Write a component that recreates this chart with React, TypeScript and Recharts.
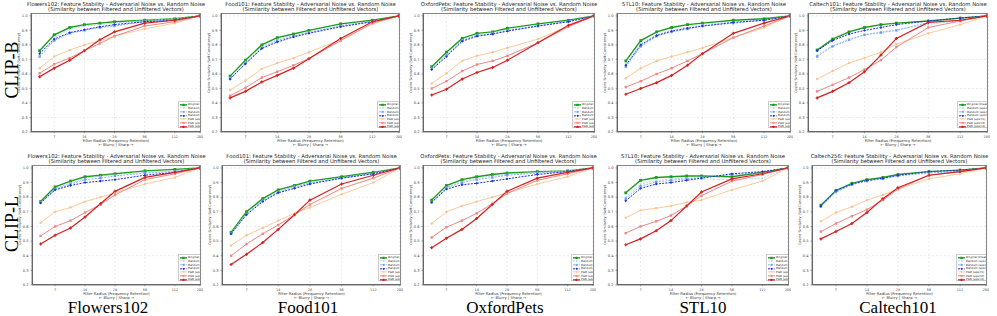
import { LineChart, Line, XAxis, YAxis, CartesianGrid } from 'recharts';

const RADII = [5, 7, 10, 14, 20, 28, 56, 112, 200];
const X_TICKS = [7, 14, 28, 56, 112, 200];
const Y_TICKS = [0.2, 0.3, 0.4, 0.5, 0.6, 0.7, 0.8, 0.9, 1.0];

const SERIES_NAMES = [
  'Original (Clean)',
  'Random (eps=1)',
  'Random (eps=2)',
  'Random (eps=4)',
  'PGD (eps=1)',
  'PGD (eps=2)',
  'PGD (eps=4)',
];

const COLUMN_LABELS = ['Flowers102', 'Food101', 'OxfordPets', 'STL10', 'Caltech101'];
const TOP_TITLES = ['Flowers102', 'Food101', 'OxfordPets', 'STL10', 'Caltech101'];
const BOTTOM_TITLES = ['Flowers102', 'Food101', 'OxfordPets', 'STL10', 'Caltech256'];

// CLIP-B rows: clean, rand1, rand2, rand4, pgd1, pgd2, pgd4
const flowersB = [
  [0.76, 0.87, 0.92, 0.94, 0.95, 0.96, 0.97, 0.98, 1.0],
  [0.74, 0.85, 0.91, 0.93, 0.94, 0.95, 0.97, 0.98, 1.0],
  [0.72, 0.83, 0.88, 0.9, 0.92, 0.93, 0.96, 0.97, 1.0],
  [0.74, 0.84, 0.885, 0.905, 0.925, 0.94, 0.96, 0.97, 1.0],
  [0.64, 0.72, 0.765, 0.8, 0.83, 0.86, 0.91, 0.95, 1.0],
  [0.605, 0.667, 0.71, 0.76, 0.81, 0.86, 0.93, 0.96, 1.0],
  [0.58, 0.64, 0.695, 0.76, 0.835, 0.89, 0.95, 0.97, 1.0],
];
const foodB = [
  [0.585, 0.695, 0.8, 0.85, 0.875, 0.9, 0.945, 0.97, 1.0],
  [0.575, 0.685, 0.79, 0.84, 0.865, 0.89, 0.935, 0.965, 1.0],
  [0.565, 0.675, 0.78, 0.83, 0.86, 0.885, 0.93, 0.96, 1.0],
  [0.565, 0.67, 0.775, 0.82, 0.855, 0.88, 0.925, 0.96, 1.0],
  [0.49, 0.555, 0.635, 0.675, 0.71, 0.75, 0.835, 0.945, 1.0],
  [0.45, 0.505, 0.575, 0.615, 0.66, 0.705, 0.83, 0.95, 1.0],
  [0.435, 0.48, 0.545, 0.59, 0.64, 0.705, 0.845, 0.96, 1.0],
];
const petsB = [
  [0.65, 0.75, 0.845, 0.88, 0.89, 0.915, 0.945, 0.97, 1.0],
  [0.64, 0.74, 0.835, 0.87, 0.885, 0.905, 0.935, 0.965, 1.0],
  [0.635, 0.73, 0.83, 0.865, 0.875, 0.9, 0.93, 0.96, 1.0],
  [0.63, 0.72, 0.825, 0.86, 0.875, 0.895, 0.93, 0.96, 1.0],
  [0.535, 0.605, 0.69, 0.725, 0.75, 0.78, 0.84, 0.93, 1.0],
  [0.5, 0.55, 0.62, 0.665, 0.69, 0.725, 0.815, 0.925, 1.0],
  [0.455, 0.495, 0.565, 0.61, 0.645, 0.695, 0.815, 0.935, 1.0],
];
const stlB = [
  [0.69, 0.83, 0.89, 0.92, 0.94, 0.95, 0.97, 0.98, 1.0],
  [0.67, 0.81, 0.87, 0.9, 0.92, 0.94, 0.96, 0.97, 1.0],
  [0.65, 0.79, 0.86, 0.89, 0.91, 0.93, 0.95, 0.97, 1.0],
  [0.66, 0.8, 0.865, 0.895, 0.915, 0.93, 0.955, 0.97, 1.0],
  [0.57, 0.64, 0.69, 0.72, 0.75, 0.78, 0.85, 0.92, 1.0],
  [0.51, 0.55, 0.6, 0.64, 0.69, 0.74, 0.85, 0.93, 1.0],
  [0.46, 0.5, 0.54, 0.59, 0.66, 0.74, 0.88, 0.95, 1.0],
];
const caltechB = [
  [0.765, 0.84, 0.89, 0.92, 0.94, 0.95, 0.965, 0.985, 1.0],
  [0.73, 0.795, 0.84, 0.87, 0.89, 0.905, 0.94, 0.97, 1.0],
  [0.72, 0.79, 0.835, 0.87, 0.885, 0.9, 0.955, 0.965, 1.0],
  [0.76, 0.83, 0.875, 0.9, 0.92, 0.94, 0.965, 0.985, 1.0],
  [0.565, 0.62, 0.675, 0.71, 0.75, 0.805, 0.88, 0.94, 1.0],
  [0.48, 0.525, 0.575, 0.63, 0.695, 0.785, 0.92, 0.965, 1.0],
  [0.435, 0.48, 0.54, 0.615, 0.73, 0.845, 0.955, 0.97, 1.0],
];

// CLIP-L rows
const flowersL = [
  [0.77, 0.87, 0.91, 0.94, 0.95, 0.96, 0.98, 0.99, 1.0],
  [0.76, 0.86, 0.9, 0.93, 0.945, 0.955, 0.97, 0.98, 1.0],
  [0.765, 0.855, 0.89, 0.92, 0.93, 0.945, 0.965, 0.975, 1.0],
  [0.76, 0.85, 0.88, 0.9, 0.91, 0.92, 0.95, 0.97, 1.0],
  [0.625, 0.7, 0.73, 0.77, 0.8, 0.83, 0.89, 0.935, 1.0],
  [0.535, 0.6, 0.64, 0.695, 0.75, 0.815, 0.92, 0.96, 1.0],
  [0.48, 0.54, 0.59, 0.665, 0.755, 0.84, 0.935, 0.97, 1.0],
];
const foodL = [
  [0.56, 0.7, 0.79, 0.85, 0.88, 0.91, 0.94, 0.97, 1.0],
  [0.555, 0.69, 0.78, 0.84, 0.875, 0.9, 0.935, 0.965, 1.0],
  [0.55, 0.685, 0.775, 0.835, 0.87, 0.895, 0.93, 0.96, 1.0],
  [0.55, 0.68, 0.77, 0.83, 0.86, 0.89, 0.93, 0.96, 1.0],
  [0.47, 0.54, 0.59, 0.64, 0.69, 0.73, 0.82, 0.9, 1.0],
  [0.4, 0.48, 0.55, 0.61, 0.68, 0.75, 0.86, 0.93, 1.0],
  [0.34, 0.41, 0.49, 0.58, 0.68, 0.78, 0.89, 0.95, 1.0],
];
const petsL = [
  [0.78, 0.88, 0.92, 0.94, 0.955, 0.965, 0.975, 0.98, 1.0],
  [0.77, 0.87, 0.91, 0.93, 0.945, 0.955, 0.97, 0.98, 1.0],
  [0.765, 0.865, 0.9, 0.92, 0.935, 0.95, 0.965, 0.975, 1.0],
  [0.765, 0.855, 0.885, 0.895, 0.91, 0.925, 0.955, 0.975, 1.0],
  [0.62, 0.7, 0.74, 0.77, 0.8, 0.83, 0.89, 0.94, 1.0],
  [0.525, 0.595, 0.64, 0.69, 0.755, 0.825, 0.915, 0.96, 1.0],
  [0.455, 0.52, 0.58, 0.655, 0.75, 0.84, 0.93, 0.97, 1.0],
];
const stlL = [
  [0.83, 0.915, 0.935, 0.94, 0.945, 0.945, 0.94, 0.97, 1.0],
  [0.8, 0.89, 0.915, 0.925, 0.93, 0.925, 0.92, 0.93, 1.0],
  [0.79, 0.875, 0.905, 0.915, 0.925, 0.935, 0.955, 0.965, 1.0],
  [0.775, 0.86, 0.89, 0.9, 0.915, 0.93, 0.96, 0.975, 1.0],
  [0.66, 0.71, 0.725, 0.74, 0.765, 0.78, 0.85, 0.91, 1.0],
  [0.555, 0.6, 0.635, 0.675, 0.74, 0.81, 0.91, 0.955, 1.0],
  [0.475, 0.515, 0.57, 0.64, 0.74, 0.835, 0.925, 0.96, 1.0],
];
const caltech256L = [
  [0.745, 0.845, 0.895, 0.92, 0.935, 0.955, 0.975, 0.985, 1.0],
  [0.74, 0.84, 0.89, 0.915, 0.93, 0.95, 0.97, 0.98, 1.0],
  [0.735, 0.835, 0.885, 0.91, 0.925, 0.945, 0.965, 0.975, 1.0],
  [0.74, 0.845, 0.89, 0.915, 0.93, 0.95, 0.975, 0.985, 1.0],
  [0.635, 0.695, 0.735, 0.78, 0.815, 0.855, 0.925, 0.96, 1.0],
  [0.565, 0.62, 0.67, 0.715, 0.78, 0.855, 0.95, 0.975, 1.0],
  [0.515, 0.565, 0.62, 0.695, 0.79, 0.865, 0.95, 0.975, 1.0],
];

const STYLES = [
  { color: '#1e9b1e', width: 1.4, dash: undefined, shape: 'square', size: 2.8 },
  { color: '#a9d0ee', width: 0.8, dash: '2 1.2', shape: 'tri', size: 2 },
  { color: '#6f9fe6', width: 0.8, dash: '2 1.2', shape: 'square', size: 2.4 },
  { color: '#1b30d8', width: 1, dash: '2 1.2', shape: 'diamond', size: 2.8 },
  { color: '#fcc38f', width: 0.9, dash: undefined, shape: 'circle', size: 1.2 },
  { color: '#f08787', width: 1, dash: undefined, shape: 'square', size: 2.4 },
  { color: '#d41f1f', width: 1.2, dash: undefined, shape: 'plus', size: 3 },
];

type St = (typeof STYLES)[number];

function marker(st: St, cx: number, cy: number, key?: string) {
  const s = st.size;
  if (st.shape === 'square')
    return <rect key={key} x={cx - s / 2} y={cy - s / 2} width={s} height={s} fill={st.color} />;
  if (st.shape === 'tri')
    return <path key={key} d={`M${cx},${cy - s / 2}L${cx + s / 2},${cy + s / 2}L${cx - s / 2},${cy + s / 2}Z`} fill={st.color} />;
  if (st.shape === 'diamond')
    return <path key={key} d={`M${cx},${cy - s / 2}L${cx + s / 2},${cy}L${cx},${cy + s / 2}L${cx - s / 2},${cy}Z`} fill={st.color} />;
  if (st.shape === 'plus')
    return (
      <path key={key} d={`M${cx - s / 2},${cy}H${cx + s / 2}M${cx},${cy - s / 2}V${cy + s / 2}`} stroke={st.color} strokeWidth={1.2} />
    );
  return <circle key={key} cx={cx} cy={cy} r={s} fill={st.color} />;
}

const AX_W = 11;
const AX_H = 7;
const FONT = '"DejaVu Sans", sans-serif';

function Panel({ title, values, left, top, w, h, legendOffset }: {
  title: string; values: number[][]; left: number; top: number; w: number; h: number; legendOffset: number;
}) {
  const data = RADII.map((r, i) => {
    const row: Record<string, number> = { r };
    values.forEach((s, k) => { row['s' + k] = s[i]; });
    return row;
  });
  const cx = left + w / 2;
  return (
    <>
      <div style={{ position: 'absolute', left: left - 20, width: w + 40, top: top - 11, textAlign: 'center', fontFamily: FONT, fontSize: 5.3, lineHeight: '5px', color: '#222' }}>
        <div>{title}: Feature Stability - Adversarial Noise vs. Random Noise</div>
        <div>(Similarity between Filtered and Unfiltered Vectors)</div>
      </div>
      <div style={{ position: 'absolute', left: left - AX_W, top, width: w + AX_W + 2, height: h + AX_H }}>
        <LineChart width={w + AX_W + 2} height={h + AX_H} data={data} margin={{ top: 0, right: 2, bottom: 0, left: 0 }}>
          <CartesianGrid stroke="#d8d8d8" strokeDasharray="2 2" strokeWidth={0.5} />
          <XAxis
            dataKey="r" type="number" scale="log" domain={[4.1, 205]} allowDataOverflow ticks={X_TICKS}
            height={AX_H} tickSize={1.2} tick={{ fontSize: 3.4, fill: '#444', fontFamily: FONT }}
            axisLine={{ stroke: '#555', strokeWidth: 0.7 }} tickLine={{ stroke: '#555', strokeWidth: 0.5 }}
          />
          <YAxis
            type="number" domain={[0.2, 1.02]} allowDataOverflow ticks={Y_TICKS} width={AX_W}
            tickFormatter={(v: number) => v.toFixed(1)} tickSize={1.5}
            tick={{ fontSize: 3.6, fill: '#444', fontFamily: FONT }}
            axisLine={{ stroke: '#555', strokeWidth: 0.7 }} tickLine={{ stroke: '#555', strokeWidth: 0.5 }}
          />
          {STYLES.map((st, k) => (
            <Line
              key={k} dataKey={'s' + k} stroke={st.color} strokeWidth={st.width} strokeDasharray={st.dash}
              isAnimationActive={false} activeDot={false}
              dot={(p: any) => marker(st, p.cx, p.cy, `d${k}-${p.index}`)}
            />
          ))}
        </LineChart>
      </div>
      <div style={{ position: 'absolute', left, top, width: w, height: h, border: '0.7px solid #666', boxSizing: 'border-box', borderRight: '0.7px solid #888', borderTop: '0.7px solid #888', pointerEvents: 'none' }} />
      <div style={{ position: 'absolute', left: left + w - legendOffset, top: top + h - 31, width: legendOffset - 1, height: 28, overflow: 'hidden' }}>
        <div style={{ width: 31, height: 27, border: '0.5px solid #ccc', background: 'rgba(255,255,255,0.9)', boxSizing: 'border-box', padding: '0.5px 1px' }}>
          {STYLES.map((st, k) => (
            <div key={k} style={{ display: 'flex', alignItems: 'center', height: 3.7 }}>
              <svg width={7} height={3.7} style={{ flex: 'none' }}>
                <line x1={0} y1={1.85} x2={7} y2={1.85} stroke={st.color} strokeWidth={st.width} strokeDasharray={st.dash} />
                {marker({ ...st, size: st.size * 0.8 }, 3.5, 1.85)}
              </svg>
              <span style={{ fontFamily: FONT, fontSize: 2.8, marginLeft: 1, whiteSpace: 'nowrap', color: '#222' }}>{SERIES_NAMES[k]}</span>
            </div>
          ))}
        </div>
      </div>
      <div style={{ position: 'absolute', left: left - 32, top: top + h / 2 - 3, width: 40, height: 6, transform: 'rotate(-90deg)', textAlign: 'center', fontFamily: FONT, fontSize: 3.4, lineHeight: '6px', whiteSpace: 'nowrap', color: '#333' }}>
        Cosine Similarity (Self-Consistency)
      </div>
      <div style={{ position: 'absolute', left: cx - 50, width: 100, top: top + h + 6.5, textAlign: 'center', fontFamily: FONT, fontSize: 3.8, lineHeight: '4.2px', color: '#333' }}>
        <div>Filter Radius (Frequency Retention)</div>
        <div>← Blurry | Sharp →</div>
      </div>
    </>
  );
}

const TOP_LAYOUT = [
  { left: 31, w: 170, lo: 23 },
  { left: 221, w: 179, lo: 23 },
  { left: 423, w: 172, lo: 23 },
  { left: 617, w: 174, lo: 23 },
  { left: 808, w: 180, lo: 31 },
];
const BOTTOM_LAYOUT = [
  { left: 32, w: 169, lo: 23 },
  { left: 222, w: 179, lo: 23 },
  { left: 423, w: 171, lo: 23 },
  { left: 617, w: 172, lo: 23 },
  { left: 812, w: 175, lo: 31 },
];
const TOP_VALUES = [flowersB, foodB, petsB, stlB, caltechB];
const BOTTOM_VALUES = [flowersL, foodL, petsL, stlL, caltech256L];
const LABEL_X = [108, 308, 505, 703, 898];

export default function App() {
  return (
    <div style={{ position: 'fixed', left: 0, top: 0, width: 997, height: 316, background: '#fff', overflow: 'hidden' }}>
      {TOP_LAYOUT.map((l, i) => (
        <Panel key={'t' + i} title={TOP_TITLES[i]} values={TOP_VALUES[i]} left={l.left} top={13} w={l.w} h={119} legendOffset={l.lo} />
      ))}
      {BOTTOM_LAYOUT.map((l, i) => (
        <Panel key={'b' + i} title={BOTTOM_TITLES[i]} values={BOTTOM_VALUES[i]} left={l.left} top={165} w={l.w} h={120} legendOffset={l.lo} />
      ))}
      {['CLIP-B', 'CLIP-L'].map((t, i) => (
        <div key={t} style={{ position: 'absolute', left: -28, top: (i === 0 ? 70 : 224) - 11, width: 80, height: 22, transform: 'rotate(-90deg)', textAlign: 'center', fontFamily: '"Liberation Serif", serif', fontSize: 18, lineHeight: '22px' }}>
          {t}
        </div>
      ))}
      {COLUMN_LABELS.map((t, i) => (
        <div key={t} style={{ position: 'absolute', left: LABEL_X[i] - 60, width: 120, top: 299, textAlign: 'center', fontFamily: '"Liberation Serif", serif', fontSize: 17, lineHeight: '17px' }}>
          {t}
        </div>
      ))}
    </div>
  );
}
